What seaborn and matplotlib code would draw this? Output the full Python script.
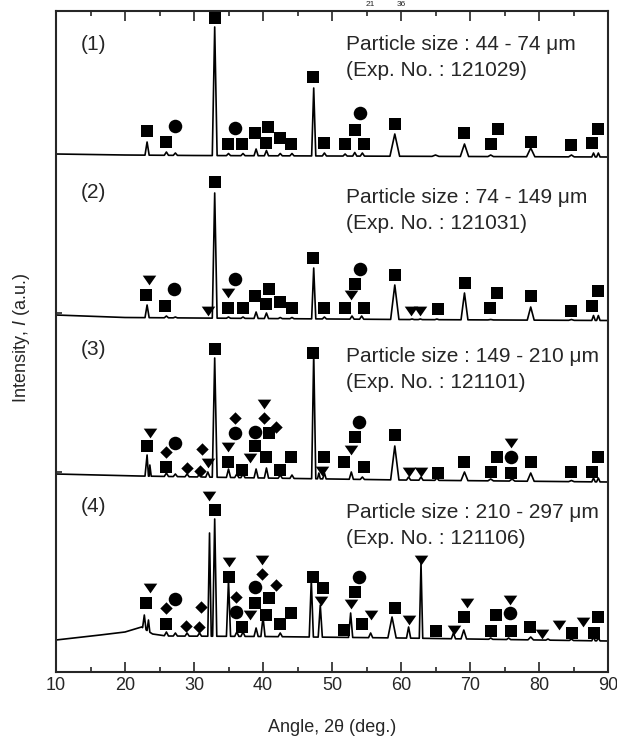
import numpy as np
import pandas as pd
import matplotlib
matplotlib.use("Agg")
from matplotlib import pyplot as plt
import seaborn as sns

# ---- traces: baseline points + peaks (angle in deg, intensity in a.u. incl. stacking offset)
t1_base_angle = [10, 20, 30, 50, 70, 90]
t1_base_level = [518, 517, 516.5, 516, 515.5, 515]
t1_peak_angle = [23.2, 26.0, 27.3, 33.0, 35.0, 37.1, 39.0, 40.5, 42.5, 44.2, 47.35, 48.9,
                 51.9, 53.3, 54.4, 59.1, 65.0, 69.2, 73.0, 78.8, 84.7, 87.9, 88.6]
t1_peak_top = [530, 520, 519, 645, 518.5, 518.5, 523, 521.5, 518.5, 518.5, 584, 519,
               518, 519.5, 519, 538, 517, 528, 517, 524, 517, 519, 519]
t1_peak_width = [0.3, 0.3, 0.3, 0.35, 0.3, 0.3, 0.3, 0.3, 0.3, 0.3, 0.3, 0.3,
                 0.3, 0.3, 0.3, 0.7, 0.5, 0.6, 0.4, 0.6, 0.4, 0.25, 0.25]

t2_base_angle = [10, 20, 40, 60, 90]
t2_base_level = [357, 354.5, 353.5, 352.5, 351.5]
t2_peak_angle = [23.2, 26.0, 27.3, 33.0, 35.0, 37.1, 39.0, 40.5, 42.5, 44.2, 47.35, 48.9,
                 52.9, 54.3, 59.1, 61.6, 62.8, 65.2, 69.2, 73.0, 78.8, 84.7, 87.9, 88.6]
t2_peak_top = [367, 356, 355, 479, 355, 355, 360, 359, 354.5, 354.5, 404, 355,
               356, 356, 387, 353, 353, 353, 379, 352.5, 365, 352.5, 356.5, 356.5]
t2_peak_width = [0.3, 0.3, 0.3, 0.35, 0.3, 0.3, 0.3, 0.3, 0.3, 0.3, 0.3, 0.3,
                 0.3, 0.3, 0.6, 0.3, 0.3, 0.3, 0.5, 0.4, 0.5, 0.4, 0.25, 0.25]

t3_base_angle = [10, 22, 40, 60, 90]
t3_base_level = [198, 196, 194, 192, 190]
t3_peak_angle = [23.2, 23.6, 26.0, 27.3, 29.0, 30.8, 32.0, 33.0, 35.0, 36.2, 37.1, 39.0,
                 40.5, 42.5, 44.2, 47.35, 48.1, 48.9, 52.8, 54.4, 59.1, 61.1, 62.9, 65.2,
                 69.2, 73.0, 76.1, 78.8, 84.7, 87.9, 88.6]
t3_peak_top = [217, 207, 199, 198, 198, 198, 200, 314, 203, 198, 198, 203,
               204, 197, 197, 319, 199, 199, 200, 195, 226, 195, 195, 194,
               200, 193, 193, 199, 191.5, 194, 194]
t3_peak_width = [0.3, 0.2, 0.3, 0.3, 0.3, 0.3, 0.3, 0.35, 0.3, 0.3, 0.3, 0.3,
                 0.3, 0.3, 0.3, 0.3, 0.2, 0.25, 0.3, 0.3, 0.6, 0.3, 0.3, 0.3,
                 0.5, 0.4, 0.4, 0.5, 0.4, 0.25, 0.25]

t4_base_angle = [10, 16.4, 20, 22.4, 24.0, 26, 40, 60, 75, 90]
t4_base_level = [32, 37, 40, 45, 38, 36, 35.5, 34, 32.5, 31]
t4_peak_angle = [22.8, 23.4, 26.0, 27.3, 29.0, 30.8, 32.25, 33.0, 35.0, 36.2, 37.1, 39.0,
                 40.0, 42.5, 47.0, 48.3, 52.7, 55.6, 58.7, 61.1, 62.9, 67.6, 69.1, 73.0,
                 75.6, 78.8, 81.3, 84.7, 87.9, 88.6]
t4_peak_top = [57, 52, 40, 39, 39, 39, 139, 153, 92, 40, 40, 44,
               55, 39, 92, 67, 59, 39, 55, 45, 109, 39, 42, 34,
               34, 35, 33, 33, 35, 34]
t4_peak_width = [0.25, 0.2, 0.3, 0.3, 0.3, 0.3, 0.25, 0.3, 0.3, 0.3, 0.3, 0.3,
                 0.3, 0.3, 0.3, 0.3, 0.3, 0.3, 0.6, 0.3, 0.25, 0.3, 0.4, 0.3,
                 0.3, 0.4, 0.3, 0.3, 0.25, 0.25]

# ---- phase markers (angle, level)
squares = [
    (23.2, 541), (26.0, 530), (33.0, 654), (34.9, 528), (37.0, 528), (38.8, 539), (40.7, 545),
    (40.5, 529), (42.5, 534), (44.1, 528), (47.3, 595), (48.9, 529), (51.9, 528), (53.4, 542),
    (54.6, 528), (59.1, 548), (69.2, 539), (74.0, 543), (73.1, 528), (78.9, 530), (84.7, 527),
    (87.7, 529), (88.6, 543),
    (23.1, 377), (25.8, 366), (33.0, 490), (34.9, 364), (37.1, 364), (38.9, 376), (40.8, 383),
    (40.4, 368), (42.5, 370), (44.2, 364), (47.3, 414), (48.8, 364), (51.9, 364), (53.3, 388),
    (54.6, 364), (59.1, 397), (65.3, 363), (69.3, 389), (73.9, 379), (72.9, 364), (78.8, 376),
    (84.6, 361), (87.7, 366), (88.6, 381),
    (23.2, 226), (26.0, 205), (33.0, 323), (34.9, 210), (36.9, 202), (38.9, 226), (40.8, 239),
    (40.4, 215), (42.5, 202), (44.1, 215), (47.3, 319), (48.8, 215), (51.8, 210), (53.3, 235),
    (54.6, 205), (59.2, 237), (65.3, 199), (69.1, 210), (73.9, 215), (73.0, 200), (75.9, 199),
    (78.8, 210), (84.7, 200), (87.7, 200), (88.6, 215),
    (23.1, 69), (25.9, 48), (33.0, 162), (35.0, 95), (37.0, 45), (38.9, 69), (40.8, 74),
    (40.4, 57), (42.4, 48), (44.1, 59), (47.3, 95), (48.7, 84), (51.8, 42), (53.3, 80),
    (54.4, 48), (59.1, 64), (65.0, 41), (69.1, 55), (73.0, 41), (73.7, 57), (75.9, 41),
    (78.7, 45), (84.8, 39), (87.9, 39), (88.6, 55),
]
circles = [
    (27.3, 546), (35.9, 544), (54.1, 559),
    (27.1, 383), (36.0, 393), (54.0, 403),
    (27.3, 229), (36.0, 239), (38.9, 240), (53.9, 250), (75.9, 215),
    (27.3, 73), (36.1, 60), (38.9, 85), (53.9, 95), (75.8, 59),
]
diamonds = [
    (26.0, 220), (29.0, 204), (30.8, 201), (31.1, 223), (36.0, 254), (40.1, 254), (41.9, 245),
    (25.9, 64), (28.9, 46), (30.7, 45), (31.0, 65), (36.1, 75), (39.9, 98), (41.9, 87),
]
triangles = [
    (23.5, 392), (32.1, 361), (34.9, 379), (52.8, 377), (61.4, 361), (62.8, 361),
    (23.6, 239), (32.1, 209), (34.9, 225), (38.1, 214), (40.1, 268), (48.6, 201), (52.8, 222),
    (61.1, 200), (62.9, 200), (76.0, 229),
    (23.6, 84), (32.2, 176), (35.0, 110), (38.1, 57), (39.9, 112), (48.4, 71), (52.7, 68),
    (55.7, 57), (61.1, 52), (62.9, 112), (67.7, 42), (69.5, 69), (75.8, 72), (80.5, 38),
    (82.9, 47), (86.4, 50),
]

panel_labels = ["(1)", "(2)", "(3)", "(4)"]
size_labels = ["Particle size : 44 - 74 \u03bcm", "Particle size : 74 - 149 \u03bcm",
               "Particle size : 149 - 210 \u03bcm", "Particle size : 210 - 297 \u03bcm"]
exp_labels = ["(Exp. No. : 121029)", "(Exp. No. : 121031)",
              "(Exp. No. : 121101)", "(Exp. No. : 121106)"]
label_levels = [627, 479, 322, 165]
text_levels = [627, 474, 315, 160]


def trace_frame(name, base_x, base_y, peak_x, peak_top, peak_w):
    # baseline points outside peaks + triangular peak (foot, apex, foot)
    xs, ys = [], []
    for bx, by in zip(base_x, base_y):
        if all(abs(bx - px) > w for px, w in zip(peak_x, peak_w)):
            xs.append(bx)
            ys.append(by)
    for px, top, w in zip(peak_x, peak_top, peak_w):
        for fx in (px - w, px + w):
            xs.append(fx)
            ys.append(float(np.interp(fx, base_x, base_y)))
        xs.append(px)
        ys.append(top)
    df = pd.DataFrame({"angle": xs, "intensity": ys}).sort_values("angle")
    df["trace"] = name
    return df


def main():
    sns.set_style("ticks")
    plt.rcParams["font.family"] = ["Liberation Sans", "DejaVu Sans"]
    plt.rcParams["mathtext.fontset"] = "custom"
    plt.rcParams["mathtext.it"] = "Liberation Sans:italic"
    plt.rcParams["mathtext.rm"] = "Liberation Sans"

    fig = plt.figure(figsize=(6.17, 7.38), dpi=100)
    ax = fig.add_axes([56 / 617, 1 - 672 / 738, 552 / 617, 661 / 738])

    traces = [
        trace_frame("1", t1_base_angle, t1_base_level, t1_peak_angle, t1_peak_top, t1_peak_width),
        trace_frame("2", t2_base_angle, t2_base_level, t2_peak_angle, t2_peak_top, t2_peak_width),
        trace_frame("3", t3_base_angle, t3_base_level, t3_peak_angle, t3_peak_top, t3_peak_width),
        trace_frame("4", t4_base_angle, t4_base_level, t4_peak_angle, t4_peak_top, t4_peak_width),
    ]
    for df in traces:
        sns.lineplot(data=df, x="angle", y="intensity", sort=False, estimator=None,
                     color="black", lw=1.2, ax=ax)

    tri = [(-1, 0.72), (1, 0.72), (0, -0.72)]
    for pts, marker, s in [(squares, "s", 78), (circles, "o", 95),
                           (diamonds, "D", 40), (triangles, tri, 95)]:
        m = pd.DataFrame(pts, columns=["angle", "intensity"])
        sns.scatterplot(data=m, x="angle", y="intensity", marker=marker, s=s,
                        color="black", linewidth=0, ax=ax, zorder=3)

    for lab, ly, sl, el, ty in zip(panel_labels, label_levels, size_labels, exp_labels, text_levels):
        ax.text(15.4, ly, lab, fontsize=15, ha="center", va="center")
        ax.text(52.1, ty, sl, fontsize=15, ha="left", va="center")
        ax.text(52.1, ty - 26, el, fontsize=15, ha="left", va="center")

    ax.set_xlim(10, 90)
    ax.set_ylim(0, 661)
    ax.set_xticks(np.arange(10, 91, 10))
    ax.set_xticks(np.arange(15, 90, 10), minor=True)
    ax.set_yticks([200, 359])
    ax.set_yticklabels([])
    ax.tick_params(axis="x", which="major", direction="in", length=7, width=1.2,
                   top=True, labelsize=13, pad=3.5)
    ax.tick_params(axis="x", which="minor", direction="in", length=3.6, width=1.2, top=True)
    ax.tick_params(axis="y", which="major", direction="in", length=4, width=1.2, left=True, right=False)
    for sp in ax.spines.values():
        sp.set_linewidth(1.5)
        sp.set_visible(True)

    ax.set_xlabel("Angle, 2\u03b8 (deg.)", fontsize=13, va="center")
    ax.set_ylabel("Intensity, $\\mathit{I}$ (a.u.)", fontsize=13, va="center")
    ax.xaxis.set_label_coords(0.5, (672 - 727) / 661)
    ax.yaxis.set_label_coords((22 - 56) / 552, (672 - 338) / 661)

    # small remnant of a caption above the frame
    fig.text(370 / 617, 1 - 0.5 / 738, "21", fontsize=6, ha="center", va="top")
    fig.text(401 / 617, 1 - 0.5 / 738, "36", fontsize=6, ha="center", va="top")

    fig.savefig("out.png", dpi=100, facecolor="white")


if __name__ == "__main__":
    main()
